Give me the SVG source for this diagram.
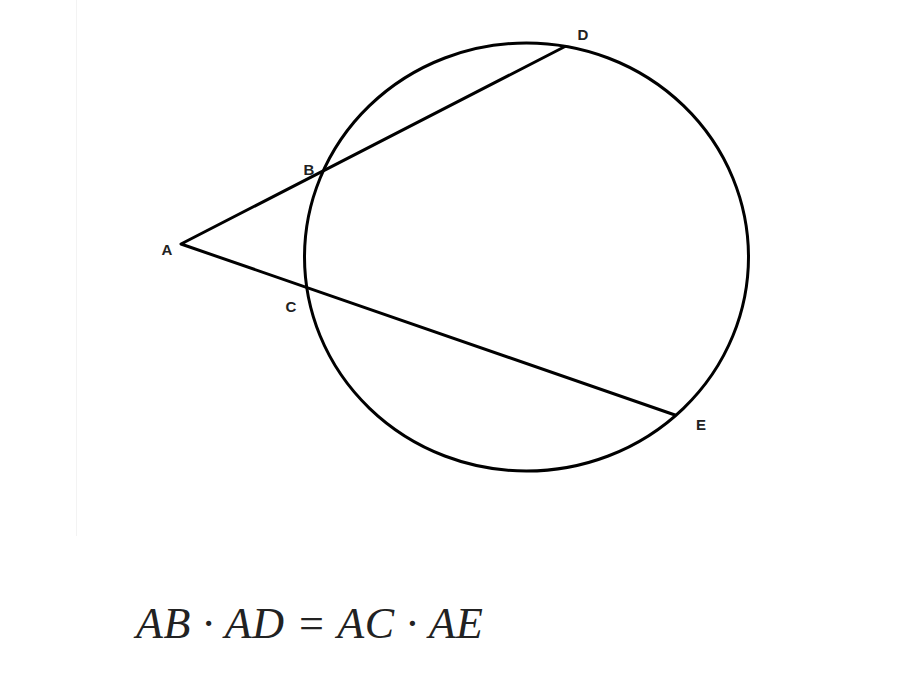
<svg xmlns="http://www.w3.org/2000/svg" width="913" height="688" viewBox="0 0 913 688">
<style>
.ln{stroke:#000;stroke-width:3;fill:none;stroke-linecap:round;stroke-linejoin:round}
.lbl{font-family:"Liberation Sans",Arial,sans-serif;font-weight:bold;font-size:15px;fill:#222;text-anchor:middle}
.eq{font-family:"Liberation Serif","Times New Roman",serif;font-style:italic;font-size:44px;fill:#222}
</style>
<rect width="913" height="688" fill="#fff"/>
<line x1="76.5" y1="0" x2="76.5" y2="536" stroke="#f3f3f3" stroke-width="1"/>
<g id="circle"><ellipse class="ln" cx="526.5" cy="257" rx="222" ry="214"/></g>
<g id="connectors">
<polyline class="ln" points="565,46.5 181,244 675,415"/>
</g>
<g id="A"><text class="lbl" x="167" y="255">A</text></g>
<g id="B"><text class="lbl" x="309" y="175">B</text></g>
<g id="C"><text class="lbl" x="291" y="312">C</text></g>
<g id="D"><text class="lbl" x="583" y="40">D</text></g>
<g id="E"><text class="lbl" x="701" y="430">E</text></g>
<g id="equation"><text class="eq" x="136" y="638" textLength="347" lengthAdjust="spacing">AB · AD = AC · AE</text></g>
</svg>
